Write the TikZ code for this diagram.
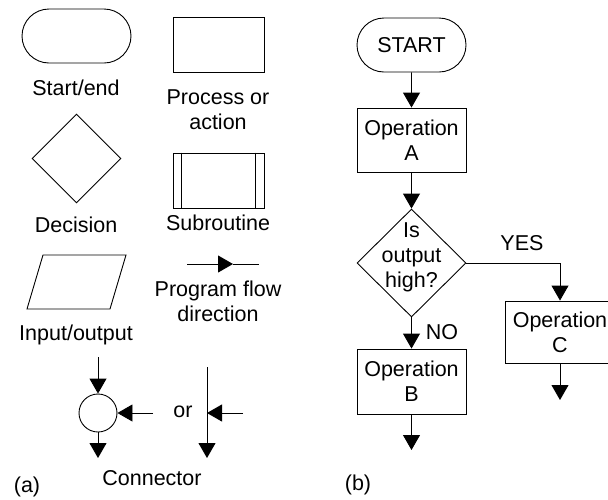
\documentclass[tikz,border=0pt]{standalone}
\usepackage{fontspec}
\setmainfont{Liberation Sans}
\usetikzlibrary{arrows.meta,positioning,shapes.geometric,shapes.misc}

\tikzset{
  terminal/.style={draw, rounded rectangle, minimum width=109pt, minimum height=54pt, inner sep=0pt},
  process/.style={draw, rectangle, minimum width=109pt, minimum height=64pt, align=center, inner sep=0pt},
  decision/.style={draw, diamond, inner sep=0pt},
  joint/.style={draw, circle, minimum size=38pt, inner sep=0pt},
  flow/.style={-{Triangle[length=15pt,width=17pt]}},
  lbl/.style={align=center, inner sep=0pt},
}

\begin{document}
\begin{tikzpicture}[x=1pt, y=-1pt, line width=0.9pt, font=\fontsize{21.5}{25}\selectfont]
\clip (0,0) rectangle (608,499);

% (a) symbols
\node[terminal] (key start) at (76.5,36) {};
\node[process, minimum width=91pt, minimum height=55pt] (key proc) at (218.5,44.5) {};
\node[decision, minimum width=89pt, minimum height=89pt] (key dec) at (76.5,158.5) {};
\node[process, minimum width=91pt, minimum height=55pt] (key sub) at (218.5,180.5) {};
\draw ([xshift=9pt]key sub.north west) -- ([xshift=9pt]key sub.south west);
\draw ([xshift=-9pt]key sub.north east) -- ([xshift=-9pt]key sub.south east);
\draw (27,309) -- (110,309) -- (126,255) -- (43,255) -- cycle;

% flow direction
\coordinate (fl a) at (187,264);
\coordinate (fl b) at (233,264);
\coordinate (fl c) at (259,264);
\draw[flow] (fl a) -- (fl b);
\draw (fl b) -- (fl c);

% connector
\node[joint] (jn) at (98,413) {};
\coordinate (jn in) at (98,357);
\coordinate (jn out) at (98,458);
\coordinate (jn side) at (153,413);
\draw[flow] (jn in) -- (jn.north);
\draw[flow] (jn.south) -- (jn out);
\draw[flow] (jn side) -- (jn.east);
\coordinate (ln top) at (207,367);
\coordinate (ln bot) at (207,458);
\coordinate (ln mid) at (207,413);
\coordinate (ln side) at (243,413);
\draw[flow] (ln top) -- (ln bot);
\draw[flow] (ln side) -- (ln mid);

% labels
\node[lbl] (t start) at (76,88) {Start/end};
\node[lbl] (t proc) at (218,110) {Process or\\action};
\node[lbl] (t dec) at (76,225) {Decision};
\node[lbl] (t sub) at (218,223) {Subroutine};
\node[lbl] (t io) at (76,335) {Input/output};
\node[lbl] (t flow) at (218,301) {Program flow\\direction};
\node[lbl] (t or) at (183,412) {or};
\node[lbl] (t conn) at (152,478) {Connector};
\node[lbl] (t a) at (27,487) {(a)};

% (b) flowchart
\node[terminal] (start) at (411.5,45) {START};
\node[process] (opA) at (411.5,140) {Operation\\A};
\node[decision, minimum width=109pt, minimum height=108pt] (test) at (411.5,263) {};
\node[lbl] (test txt) at (411.5,257) {Is\\output\\high?};
\node[process, minimum height=65pt] (opB) at (411.5,381.5) {Operation\\B};
\node[process, minimum width=110pt, minimum height=62pt] (opC) at (560,332) {Operation\\C};
\coordinate (outB) at (411.5,450);
\coordinate (outC) at (560,400);

\draw[flow] (start) -- (opA);
\draw[flow] (opA) -- (test);
\draw[flow] (test.south) -- (opB);
\draw[flow] (test.east) -| (opC.north);
\draw[flow] (opB) -- (outB);
\draw[flow] (opC) -- (outC);

\node[lbl] (yes) at (522,243) {YES};
\node[lbl] (no) at (442,332) {NO};
\node[lbl] (t b) at (358,485) {(b)};
\end{tikzpicture}
\end{document}
